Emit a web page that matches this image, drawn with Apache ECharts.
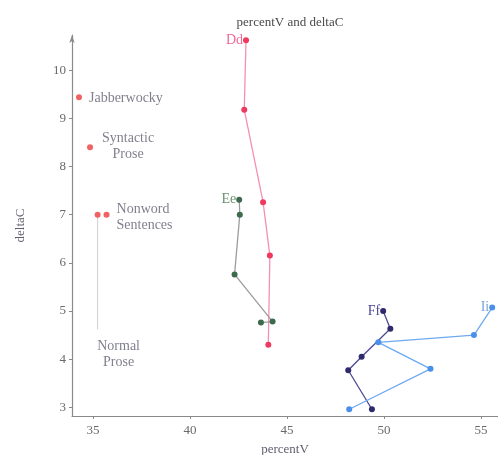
<!DOCTYPE html>
<html>
<head>
<meta charset="utf-8">
<script src="https://cdn.jsdelivr.net/npm/echarts@6/dist/echarts.min.js"></script>
<style>
  html, body { margin: 0; padding: 0; background: #ffffff; }
  #chart { width: 498px; height: 455px; }
</style>
</head>
<body>
<div id="chart"></div>
<script>
// Tick values
const xTicks = [35, 40, 45, 50, 55];
const yTicks = [3, 4, 5, 6, 7, 8, 9, 10];

// Speaker trajectories: [percentV, deltaC]
const ddPoints = [[42.89, 10.62], [42.80, 9.18], [43.77, 7.26], [44.12, 6.15], [44.04, 4.30]];
const eePoints = [[42.54, 7.31], [42.57, 7.00], [42.30, 5.76], [44.26, 4.78], [43.66, 4.76]];
const ffPoints = [[49.96, 5.00], [50.33, 4.63], [48.85, 4.05], [48.16, 3.77], [49.38, 2.96]];
const iiPoints = [[55.58, 5.07], [54.64, 4.50], [49.71, 4.35], [52.40, 3.80], [48.21, 2.96]];

// Reference sentence types
const typeNames = ['Jabberwocky', 'Syntactic\nProse', 'Nonword\nSentences', 'Normal\nProse'];
const typeX = [34.28, 34.85, 35.70, 35.24];
const typeY = [9.44, 8.40, 7.00, 7.00];
// lower end of the pointer running down to the "Normal Prose" caption
const normalPointerEnd = 4.62;

const serif = '"Liberation Serif", "DejaVu Serif", serif';
const textGray = '#5f5f70';

const chart = echarts.init(document.getElementById('chart'));

function trajectory(name, pts, lineColor, pointColor, labelColor) {
  return {
    type: 'line',
    name: name,
    data: pts.map((p, i) => ({
      value: p,
      label: i === 0 ? {
        show: true, position: 'left', distance: 0,
        formatter: name, color: labelColor,
        fontFamily: serif, fontSize: 14
      } : { show: false }
    })),
    symbol: 'circle',
    symbolSize: 6,
    lineStyle: { color: lineColor, width: 1.3 },
    itemStyle: { color: pointColor },
    emphasis: { disabled: true },
    z: 3
  };
}

const typeLabelStyles = [
  { position: 'right', distance: 7, align: 'left', verticalAlign: 'middle', offset: [0, 1] },
  { position: [41, 2], align: 'center', verticalAlign: 'middle' },
  { position: 'right', distance: 7, align: 'left', verticalAlign: 'middle', offset: [0, 3] },
  { position: [24, 143], align: 'center', verticalAlign: 'middle' }
];

chart.setOption({
  animation: false,
  backgroundColor: '#ffffff',
  title: {
    text: 'percentV and deltaC',
    left: 285, top: 11, textAlign: 'center',
    textStyle: { fontFamily: serif, fontSize: 13, fontWeight: 'normal', color: '#4a4a4a' }
  },
  grid: { left: 72, right: 0, top: 35, bottom: 39, containLabel: false, outerBoundsMode: 'none' },
  xAxis: {
    type: 'value',
    min: 33.92, max: 55.88,
    name: 'percentV', nameLocation: 'middle', nameGap: 27,
    nameTextStyle: { fontFamily: serif, fontSize: 13, color: textGray },
    axisLine: { show: true, lineStyle: { color: '#8a8a8a', width: 1.2 } },
    axisTick: { show: true, length: 3, customValues: xTicks, lineStyle: { color: '#8a8a8a' } },
    axisLabel: { customValues: xTicks, fontFamily: serif, fontSize: 13, color: '#6a6a6a', margin: 8 },
    splitLine: { show: false }
  },
  yAxis: {
    type: 'value',
    min: 2.82, max: 10.73,
    name: 'deltaC', nameLocation: 'middle', nameGap: 45, nameRotate: 90,
    nameTextStyle: { fontFamily: serif, fontSize: 13, color: textGray },
    axisLine: { show: true, symbol: ['none', 'arrow'], symbolSize: [4, 8], lineStyle: { color: '#8a8a8a', width: 1.2 } },
    axisTick: { show: true, length: 3, customValues: yTicks, lineStyle: { color: '#8a8a8a' } },
    axisLabel: { customValues: yTicks, fontFamily: serif, fontSize: 13, color: '#6a6a6a', margin: 6 },
    splitLine: { show: false }
  },
  series: [
    {
      // thin pointer from the Normal Prose point to its caption
      type: 'line',
      name: 'pointer',
      data: [[typeX[3], typeY[3]], [typeX[3], normalPointerEnd]],
      symbol: 'none',
      lineStyle: { color: '#cfcfcf', width: 1 },
      emphasis: { disabled: true },
      z: 1
    },
    trajectory('Dd', ddPoints, '#f58fb4', '#ee3a5e', '#ef6a9a'),
    trajectory('Ee', eePoints, '#9c9c9c', '#3d6a4d', '#6f9272'),
    trajectory('Ff', ffPoints, '#4d4898', '#2e2a6c', '#4d4898'),
    trajectory('Ii', iiPoints, '#6eaaf0', '#4a90ea', '#7aa6de'),
    {
      type: 'scatter',
      name: 'types',
      symbol: 'circle',
      symbolSize: 6,
      itemStyle: { color: '#ee3b3b' },
      data: typeNames.map((n, i) => ({
        value: [typeX[i], typeY[i]],
        name: n,
        label: Object.assign({
          show: true, formatter: n,
          fontFamily: serif, fontSize: 14, lineHeight: 16, color: textGray
        }, typeLabelStyles[i])
      })),
      emphasis: { disabled: true },
      z: 4
    }
  ]
});
</script>
</body>
</html>
